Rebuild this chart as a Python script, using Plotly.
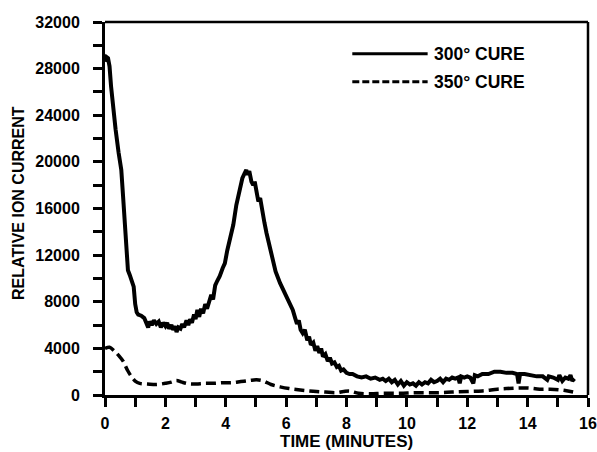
import plotly.graph_objects as go

# 300° cure: time (minutes) and relative ion current
t_300 = [0.0, 0.05, 0.1, 0.15, 0.2, 0.27, 0.35, 0.45, 0.54, 0.6, 0.65, 0.7, 0.76, 0.82, 0.9, 0.95,
         1.0, 1.05, 1.1, 1.2, 1.3, 1.38, 1.43, 1.48, 1.55, 1.62, 1.7, 1.78, 1.85, 1.92, 2.0, 2.06,
         2.12, 2.2, 2.26, 2.32, 2.37, 2.43, 2.5, 2.56, 2.62, 2.7, 2.76, 2.82, 2.88, 2.95, 3.0, 3.06,
         3.12, 3.18, 3.25, 3.32, 3.38, 3.45, 3.52, 3.58, 3.65, 3.72, 3.8, 3.9, 3.97, 4.05, 4.15,
         4.25, 4.35, 4.45, 4.55, 4.62, 4.68, 4.72, 4.78, 4.85, 4.91, 4.96, 5.02, 5.08, 5.14, 5.2,
         5.28, 5.35, 5.45, 5.55, 5.65, 5.8, 5.95, 6.05, 6.13, 6.22, 6.3, 6.36, 6.42, 6.48, 6.55,
         6.62, 6.7, 6.76, 6.82, 6.9, 6.97, 7.03, 7.1, 7.16, 7.22, 7.3, 7.38, 7.45, 7.52, 7.6, 7.68,
         7.75, 7.82, 7.9, 8.0, 8.1, 8.2, 8.35, 8.5, 8.65, 8.8, 8.95, 9.1, 9.2, 9.3, 9.4, 9.5, 9.6,
         9.7, 9.8, 9.9, 10.0, 10.1, 10.2, 10.3, 10.4, 10.5, 10.6, 10.7, 10.8, 10.9, 11.0, 11.1,
         11.2, 11.3, 11.4, 11.5, 11.6, 11.7, 11.75, 11.8, 11.9, 12.0, 12.1, 12.2, 12.25, 12.35,
         12.5, 12.7, 12.9, 13.1, 13.3, 13.5, 13.65, 13.7, 13.75, 13.9, 14.1, 14.3, 14.5, 14.65,
         14.7, 14.85, 15.0, 15.05, 15.15, 15.25, 15.35, 15.42, 15.48, 15.55]
ion_300 = [28600, 29000, 28900, 28200, 26500, 24500, 22800, 20800, 19300, 17000, 15000, 12800,
           10700, 10300, 9800, 9300, 7800, 7100, 6900, 6800, 6600, 6200, 5800, 6300, 6000, 6400,
           6100, 6300, 5800, 6200, 5900, 6200, 5700, 6000, 5600, 5900, 5400, 5800, 5700, 6100,
           5800, 6400, 6000, 6500, 6200, 6900, 6500, 7300, 6700, 7400, 7000, 7800, 7400, 8000,
           8600, 8200, 9400, 9800, 10200, 10900, 11300, 12400, 13600, 14600, 16300, 17600, 18600,
           19000, 19300, 18900, 19200, 18300, 18000, 18300, 17400, 16600, 16900, 15800, 14800,
           13900, 12700, 11600, 10600, 9600, 8800, 8300, 7900, 7300, 6600, 6100, 6400, 5600, 5300,
           5600, 4700, 5000, 4300, 4500, 3800, 4200, 3600, 4000, 3300, 3500, 2900, 3200, 2700,
           2800, 2400, 2500, 2100, 2200, 1900, 1800, 1800, 1600, 1500, 1600, 1400, 1500, 1300,
           1400, 1200, 1400, 1100, 1300, 900, 1200, 800, 1100, 900, 1000, 800, 1100, 900, 1100,
           1000, 1300, 1100, 1200, 1400, 1100, 1400, 1300, 1500, 1400, 1500, 1000, 1600, 1500,
           1600, 1500, 1000, 1700, 1600, 1800, 1800, 2000, 2000, 1900, 1900, 1800, 1000, 1800,
           1800, 1700, 1600, 1600, 1300, 1600, 1500, 1300, 1700, 1200, 1500, 1400, 1700, 1200,
           1400]

# 350° cure
t_350 = [0.0, 0.15, 0.3, 0.45, 0.6, 0.75, 0.87, 1.0, 1.15, 1.4, 1.7, 2.0, 2.2, 2.37, 2.55, 2.8,
         3.03, 3.3, 3.6, 3.9, 4.2, 4.5, 4.8, 5.02, 5.25, 5.5, 5.8, 6.1, 6.4, 6.7, 7.0, 7.3, 7.67,
         7.9, 8.1, 8.4, 8.8, 9.2, 9.77, 10.3, 11.0, 11.5, 12.0, 12.5, 13.0, 13.3, 13.65, 14.0,
         14.4, 14.75, 15.2, 15.6]
ion_350 = [4000, 4100, 3800, 3400, 2900, 2100, 1600, 1200, 1000, 950, 900, 1000, 1100, 1250,
           1100, 950, 950, 1000, 1000, 1050, 1050, 1150, 1250, 1300, 1200, 900, 700, 550, 450,
           370, 300, 250, 200, 300, 350, 150, 100, 150, 150, 200, 200, 250, 300, 350, 500, 550,
           600, 600, 500, 500, 400, 200]

legend_labels = ["300° CURE", "350° CURE"]
x_ticks = [0, 2, 4, 6, 8, 10, 12, 14, 16]
y_ticks = [0, 4000, 8000, 12000, 16000, 20000, 24000, 28000, 32000]

FONT = "Liberation Sans"
INK = "#000000"

fig = go.Figure()
fig.add_trace(go.Scatter(x=t_300, y=ion_300, mode="lines", name=legend_labels[0],
                         line=dict(color=INK, width=4), showlegend=False))
fig.add_trace(go.Scatter(x=t_350, y=ion_350, mode="lines", name=legend_labels[1],
                         line=dict(color=INK, width=3.5, dash="10px,5px", shape="spline"),
                         showlegend=False))

axis_common = dict(showgrid=False, zeroline=False, showline=True, linecolor=INK, linewidth=3,
                   ticks="outside", ticklen=9, tickwidth=2.5, tickcolor=INK, automargin=False,
                   tickfont=dict(family=FONT, size=16, color=INK, weight="bold"))

fig.update_xaxes(range=[0, 16], tickvals=x_ticks, ticktext=[str(v) for v in x_ticks],
                 minor=dict(dtick=1, ticks="outside", ticklen=9, tickwidth=2.5, tickcolor=INK),
                 ticklabelstandoff=3, **axis_common)
fig.update_yaxes(range=[0, 32000], tickvals=y_ticks, ticktext=[str(v) for v in y_ticks],
                 minor=dict(dtick=2000, ticks="outside", ticklen=9, tickwidth=2.5, tickcolor=INK),
                 ticklabelstandoff=10, **axis_common)

# frame on top and right
fig.add_shape(type="line", xref="paper", yref="paper", x0=0, x1=1, y0=1, y1=1,
              line=dict(color=INK, width=2.5))
fig.add_shape(type="line", xref="paper", yref="paper", x0=1, x1=1, y0=0, y1=1,
              line=dict(color=INK, width=2.5))

# legend drawn in the upper right
for i, (label, dash) in enumerate(zip(legend_labels, ["solid", "7px,3px"])):
    yy = 0.915 - i * 0.075
    fig.add_shape(type="line", xref="paper", yref="paper", x0=0.512, x1=0.668, y0=yy, y1=yy,
                  line=dict(color=INK, width=3, dash=dash))
    fig.add_annotation(xref="paper", yref="paper", x=0.678, y=yy, text=label, showarrow=False,
                       xanchor="left", yanchor="middle",
                       font=dict(family=FONT, size=17.5, color=INK, weight="bold"))

fig.add_annotation(xref="paper", yref="paper", x=0.5, y=-57 / 373, text="TIME (MINUTES)",
                   showarrow=False, xanchor="center", yanchor="bottom", borderpad=0,
                   font=dict(family=FONT, size=17, color=INK, weight="bold"))
fig.add_annotation(xref="paper", yref="paper", x=-0.178, y=0.515, text="RELATIVE ION CURRENT",
                   showarrow=False, xanchor="center", yanchor="middle", textangle=-90,
                   font=dict(family=FONT, size=16, color=INK, weight="bold"))

fig.update_layout(width=597, height=452, margin=dict(l=105, r=9, t=22, b=57),
                  paper_bgcolor="white", plot_bgcolor="white", showlegend=False)

fig.write_html("out.html")
